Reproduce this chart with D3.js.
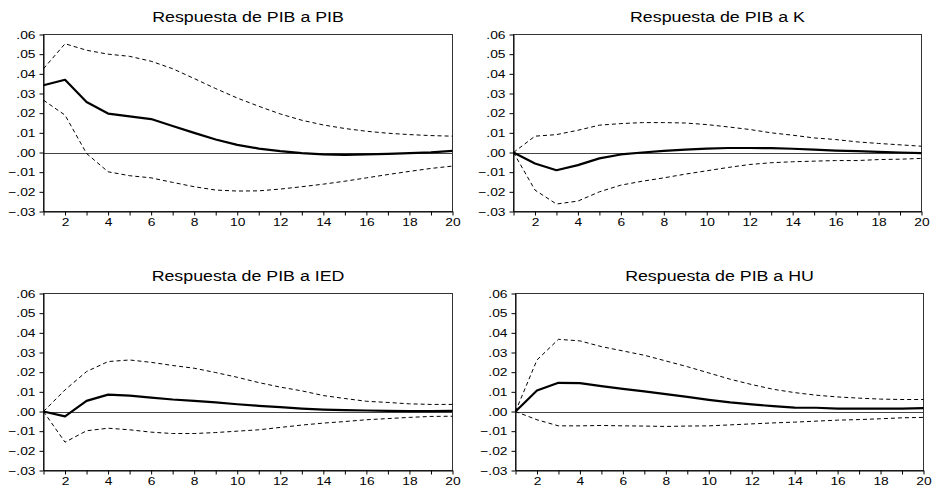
<!DOCTYPE html>
<html>
<head>
<meta charset="utf-8">
<script src="https://cdn.jsdelivr.net/npm/d3@7"></script>
<style>
  html, body { margin: 0; padding: 0; background: #fff; }
  svg { display: block; }
  text { font-family: "Liberation Sans", Arial, sans-serif; fill: #000; }
</style>
</head>
<body>
<svg id="chart" width="933" height="491"></svg>
<script>
// ---- Data ----
const periods = d3.range(1, 21);
const yTicks = [-0.03, -0.02, -0.01, 0, 0.01, 0.02, 0.03, 0.04, 0.05, 0.06];
const xTickLabels = [2, 4, 6, 8, 10, 12, 14, 16, 18, 20];
const titles = ["Respuesta de PIB a PIB", "Respuesta de PIB a K", "Respuesta de PIB a IED", "Respuesta de PIB a HU"];

const pibResp = [0.0342, 0.0370, 0.0257, 0.0198, 0.0184, 0.0170, 0.0135, 0.0100, 0.0066, 0.0039,
                 0.0020, 0.0007, -0.0003, -0.0010, -0.0012, -0.0010, -0.0007, -0.0003, 0.0001, 0.0008];
const pibUpper = [0.0426, 0.0553, 0.0520, 0.0500, 0.0489, 0.0464, 0.0426, 0.0376, 0.0325, 0.0277,
                  0.0235, 0.0196, 0.0164, 0.0140, 0.0122, 0.0108, 0.0098, 0.0091, 0.0086, 0.0083];
const pibLower = [0.0266, 0.0190, -0.0005, -0.0098, -0.0118, -0.0129, -0.0152, -0.0174, -0.0191, -0.0196,
                  -0.0195, -0.0186, -0.0174, -0.0161, -0.0146, -0.0129, -0.0112, -0.0096, -0.0081, -0.0069];

const kResp = [0, -0.0056, -0.0090, -0.0064, -0.0030, -0.0010, 0, 0.0008, 0.0015, 0.0020,
               0.0023, 0.0023, 0.0022, 0.0019, 0.0015, 0.0010, 0.0007, 0.0003, 0, -0.0003];
const kUpper = [0, 0.0083, 0.0091, 0.0113, 0.0139, 0.0147, 0.0152, 0.0152, 0.0150, 0.0142,
                0.0130, 0.0117, 0.0100, 0.0088, 0.0074, 0.0066, 0.0054, 0.0046, 0.0039, 0.0032];
const kLower = [0, -0.0191, -0.0262, -0.0247, -0.0200, -0.0166, -0.0146, -0.0129, -0.0110, -0.0093,
                -0.0076, -0.0061, -0.0052, -0.0047, -0.0044, -0.0041, -0.0041, -0.0036, -0.0034, -0.0030];

const iedResp = [0, -0.0025, 0.0054, 0.0086, 0.0081, 0.0071, 0.0061, 0.0054, 0.0046, 0.0037,
                 0.0029, 0.0022, 0.0015, 0.0010, 0.0007, 0.0005, 0.0003, 0.0002, 0.0002, 0.0003];
const iedUpper = [0, 0.0110, 0.0203, 0.0254, 0.0262, 0.0250, 0.0234, 0.0220, 0.0198, 0.0174,
                  0.0147, 0.0124, 0.0105, 0.0081, 0.0066, 0.0052, 0.0046, 0.0039, 0.0036, 0.0036];
const iedLower = [0, -0.0156, -0.0098, -0.0085, -0.0093, -0.0105, -0.0112, -0.0112, -0.0107, -0.0100,
                  -0.0093, -0.0081, -0.0069, -0.0059, -0.0051, -0.0042, -0.0036, -0.0030, -0.0025, -0.0024];

const huResp = [0, 0.0107, 0.0146, 0.0144, 0.0129, 0.0115, 0.0102, 0.0088, 0.0074, 0.0059,
                0.0046, 0.0036, 0.0027, 0.0020, 0.0019, 0.0015, 0.0015, 0.0015, 0.0015, 0.0017];
const huUpper = [0, 0.0262, 0.0367, 0.0359, 0.0330, 0.0308, 0.0286, 0.0257, 0.0228, 0.0196,
                 0.0164, 0.0137, 0.0113, 0.0096, 0.0083, 0.0074, 0.0068, 0.0063, 0.0061, 0.0061];
const huLower = [0, -0.0042, -0.0073, -0.0073, -0.0071, -0.0073, -0.0074, -0.0076, -0.0074, -0.0073,
                 -0.0068, -0.0063, -0.0058, -0.0054, -0.0049, -0.0044, -0.0041, -0.0037, -0.0032, -0.0030];

// ---- Layout ----
const panels = [
  { title: titles[0], resp: pibResp, upper: pibUpper, lower: pibLower, x0: 43.5, x1: 452.5, y0: 34.5, y1: 211.5 },
  { title: titles[1], resp: kResp,   upper: kUpper,   lower: kLower,   x0: 513.5, x1: 921.5, y0: 34.5, y1: 211.5 },
  { title: titles[2], resp: iedResp, upper: iedUpper, lower: iedLower, x0: 43.5, x1: 452.5, y0: 293.5, y1: 470.5 },
  { title: titles[3], resp: huResp,  upper: huUpper,  lower: huLower,  x0: 515.5, x1: 923.5, y0: 293.5, y1: 470.5 }
];

const svg = d3.select("#chart");
const TICK_SX = 1.2, TITLE_SX = 1.27;

function stretchText(sel, sx) {
  sel.each(function () {
    const t = d3.select(this);
    const x = +(t.attr("x") || 0);
    t.attr("x", x / sx).attr("transform", `scale(${sx},1)`);
  });
}

const fmtY = v => d3.format(".2f")(v).replace(/^(\u2212?)0\./, "$1.");

panels.forEach(p => {
  const x = d3.scaleLinear().domain([1, 20]).range([p.x0, p.x1]);
  const y = d3.scaleLinear().domain([-0.03, 0.06]).range([p.y1, p.y0]);
  const g = svg.append("g");

  // frame
  g.append("rect")
    .attr("x", p.x0).attr("y", p.y0)
    .attr("width", p.x1 - p.x0).attr("height", p.y1 - p.y0)
    .attr("fill", "none").attr("stroke", "#333").attr("stroke-width", 1);

  // zero line
  g.append("line")
    .attr("x1", p.x0).attr("x2", p.x1)
    .attr("y1", Math.round(y(0)) + 0.5).attr("y2", Math.round(y(0)) + 0.5)
    .attr("stroke", "#444").attr("stroke-width", 1);

  // y axis
  const yAxis = g.append("g")
    .attr("transform", `translate(${p.x0},0)`)
    .call(d3.axisLeft(y).tickValues(yTicks).tickFormat(fmtY).tickSize(4).tickSizeOuter(0).tickPadding(4));
  yAxis.select(".domain").attr("stroke", "#000");
  yAxis.selectAll(".tick line").attr("stroke", "#000");
  yAxis.selectAll("text").attr("font-size", 11.5).attr("font-family", null);
  stretchText(yAxis.selectAll("text"), TICK_SX);

  // x axis
  const xAxis = g.append("g")
    .attr("transform", `translate(0,${p.y1})`)
    .call(d3.axisBottom(x).tickValues(periods)
      .tickFormat(d => xTickLabels.includes(d) ? d : "")
      .tickSize(4).tickSizeOuter(0).tickPadding(2));
  xAxis.select(".domain").attr("stroke", "#000");
  xAxis.selectAll(".tick line").attr("stroke", "#000");
  xAxis.selectAll("text").attr("font-size", 11.5).attr("font-family", null);
  stretchText(xAxis.selectAll("text"), TICK_SX);

  // lines
  const line = d3.line().x((d, i) => x(periods[i])).y(d => y(d));
  g.append("path").datum(p.upper).attr("d", line)
    .attr("fill", "none").attr("stroke", "#000").attr("stroke-width", 1).attr("stroke-dasharray", "4,3");
  g.append("path").datum(p.lower).attr("d", line)
    .attr("fill", "none").attr("stroke", "#000").attr("stroke-width", 1).attr("stroke-dasharray", "4,3");
  g.append("path").datum(p.resp).attr("d", line)
    .attr("fill", "none").attr("stroke", "#000").attr("stroke-width", 2.2).attr("stroke-linejoin", "round");

  // title
  const tg = g.append("g").attr("transform", `translate(${(p.x0 + p.x1) / 2},${p.y0 - 13})`);
  const tt = tg.append("text").attr("x", 0).attr("y", 0)
    .attr("text-anchor", "middle").attr("font-size", 14).text(p.title);
  stretchText(tt, TITLE_SX);
});
</script>
</body>
</html>
